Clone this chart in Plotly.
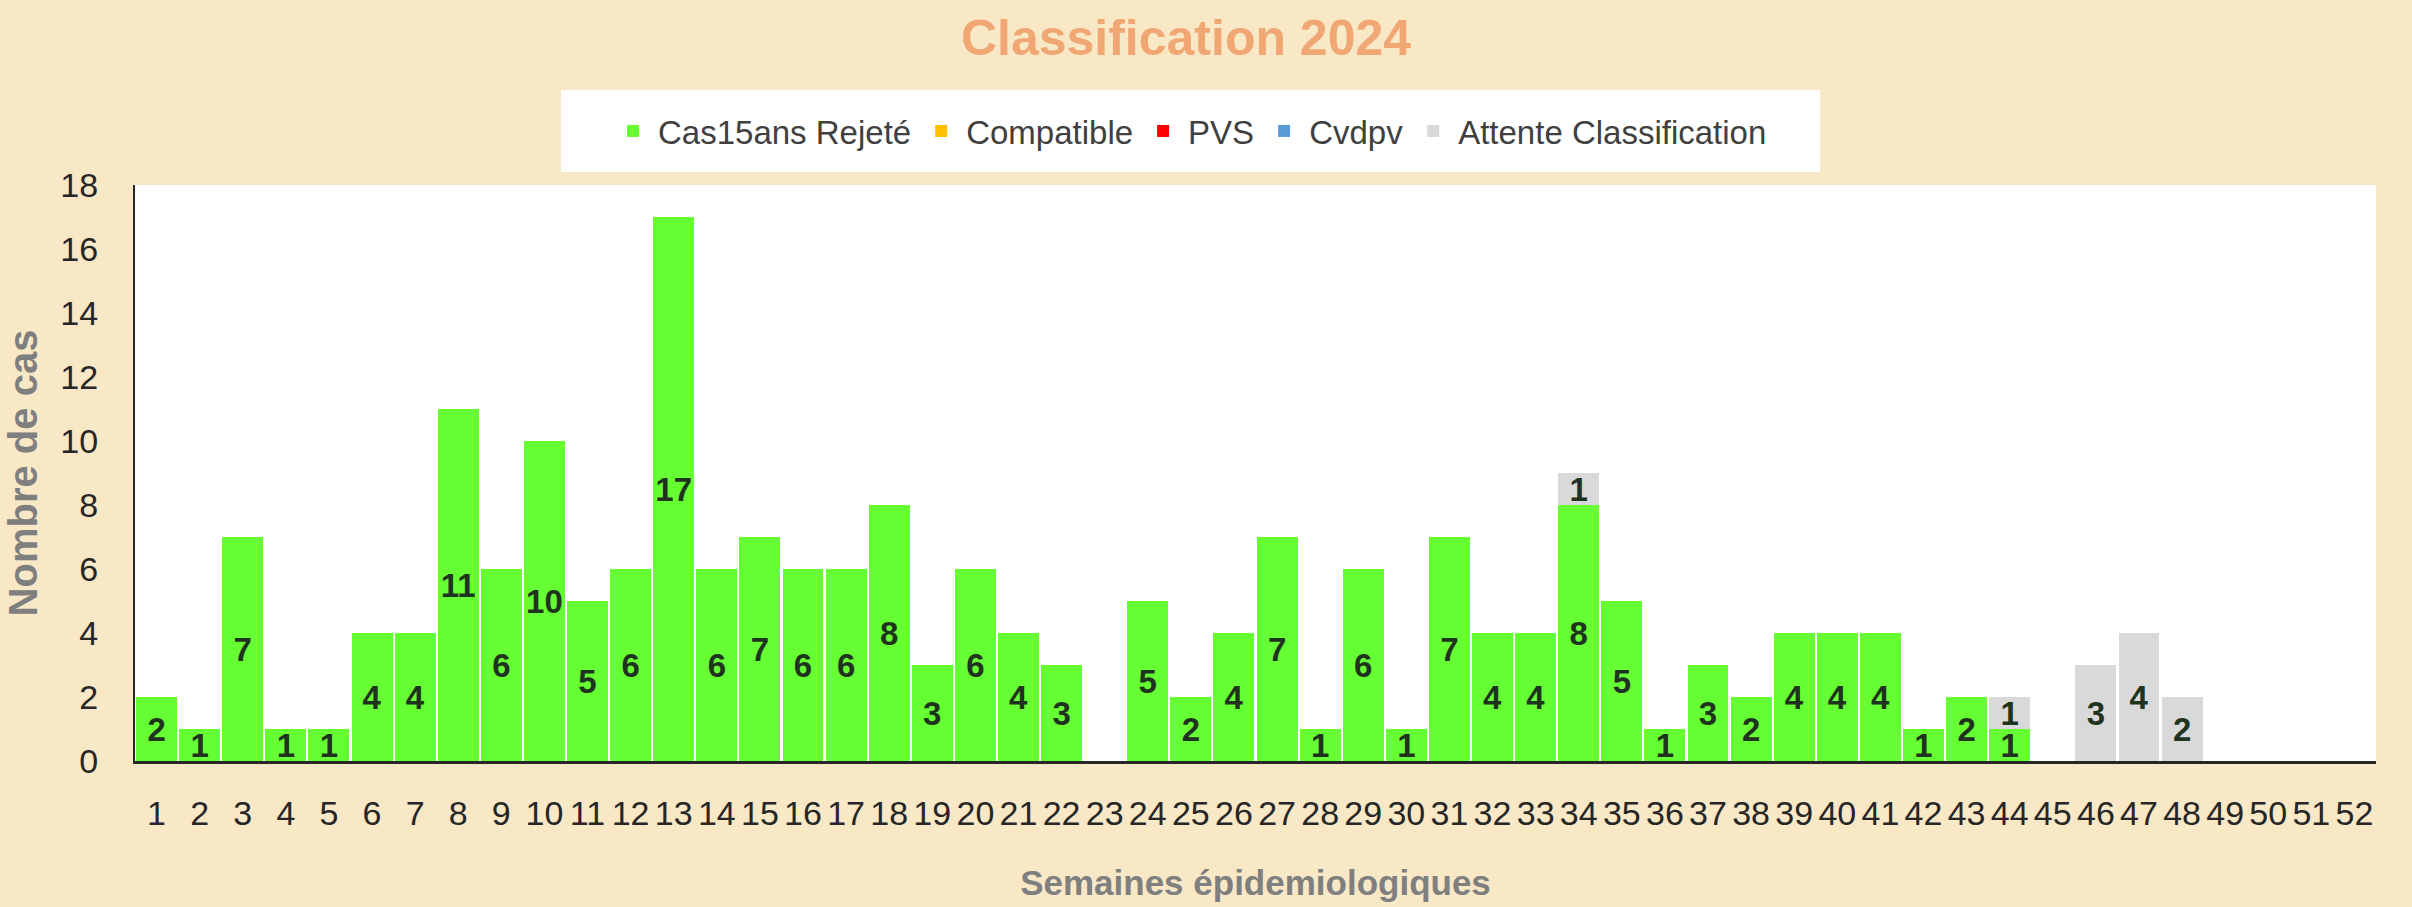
import plotly.graph_objects as go

weeks = list(range(1, 53))
week_labels = [str(w) for w in weeks]

cas15_rejete = [2, 1, 7, 1, 1, 4, 4, 11, 6, 10, 5, 6, 17, 6, 7, 6, 6, 8, 3, 6, 4, 3, 0, 5, 2, 4,
                7, 1, 6, 1, 7, 4, 4, 8, 5, 1, 3, 2, 4, 4, 4, 1, 2, 1, 0, 0, 0, 0, 0, 0, 0, 0]
compatible = [0] * 52
pvs = [0] * 52
cvdpv = [0] * 52
attente = [0, 0, 0, 0, 0, 0, 0, 0, 0, 0, 0, 0, 0, 0, 0, 0, 0, 0, 0, 0, 0, 0, 0, 0, 0, 0,
           0, 0, 0, 0, 0, 0, 0, 1, 0, 0, 0, 0, 0, 0, 0, 0, 0, 1, 0, 3, 4, 2, 0, 0, 0, 0]

series = [
    ("Cas15ans Rejeté", cas15_rejete, "#66FF33"),
    ("Compatible", compatible, "#FFC000"),
    ("PVS", pvs, "#FF0000"),
    ("Cvdpv", cvdpv, "#5B9BD5"),
    ("Attente Classification", attente, "#D9D9D9"),
]

FONT = "Liberation Sans, Arial, sans-serif"

fig = go.Figure()
for name, vals, color in series:
    fig.add_trace(go.Bar(
        x=weeks, y=vals, name=name,
        marker=dict(color=color, line=dict(width=0)),
        text=[str(v) if v else "" for v in vals],
        textposition="inside",
        insidetextanchor="middle",
        constraintext="none",
        textangle=0,
        textfont=dict(family=FONT, size=33, color="#1F331F", weight="bold"),
        hoverinfo="x+y+name",
    ))

L, R, T, B = 135, 36, 185, 146
W, H = 2412, 907
pw = W - L - R
ph = H - T - B

def px(xp):
    return (xp - L) / pw

def py(yp):
    return (H - B - yp) / ph

fig.update_layout(
    width=W, height=H,
    barmode="stack", bargap=0.05,
    paper_bgcolor="#F8E8C6", plot_bgcolor="#FFFFFF",
    margin=dict(l=L, r=R, t=T, b=B, autoexpand=False),
    font=dict(family=FONT, color="#262626"),
    title=dict(text="<b>Classification 2024</b>", x=px(1186), xref="paper", xanchor="center",
               y=1 - 37 / H, yref="container", yanchor="middle",
               font=dict(family=FONT, size=50, color="#F1A774")),
    legend=dict(orientation="h", x=px(1190), xanchor="center", y=py(131), yanchor="middle",
                bgcolor="rgba(0,0,0,0)", font=dict(family=FONT, size=33, color="#404040"),
                traceorder="normal", itemwidth=40),
    shapes=[dict(type="rect", xref="paper", yref="paper", x0=px(561), x1=px(1820),
                 y0=py(172), y1=py(90), fillcolor="#FFFFFF", line=dict(width=0), layer="below")],
    showlegend=True,
)

fig.update_xaxes(
    range=[0.5, 52.5], tickmode="array", tickvals=weeks, ticktext=week_labels,
    tickangle=0, showgrid=False, zeroline=False, ticks="",
    showline=True, linecolor="#262626", linewidth=2.5,
    tickfont=dict(family=FONT, size=34, color="#262626"),
    ticklabelstandoff=20,
    title=dict(text="<b>Semaines épidemiologiques</b>", standoff=40,
               font=dict(family=FONT, size=35, color="#7F7F7F")),
)
fig.update_yaxes(
    range=[0, 18], tick0=0, dtick=2, showgrid=False, zeroline=False, ticks="",
    showline=True, linecolor="#262626", linewidth=2,
    tickfont=dict(family=FONT, size=34, color="#262626"),
    ticklabelstandoff=28,
    title=dict(text="<b>Nombre de cas</b>", standoff=10,
               font=dict(family=FONT, size=40, color="#7F7F7F")),
)

fig.write_html(
    "out.html",
    config={"displayModeBar": False},
    post_script="document.body.style.margin='0';document.body.style.padding='0';"
                "document.documentElement.style.overflow='hidden';",
)
